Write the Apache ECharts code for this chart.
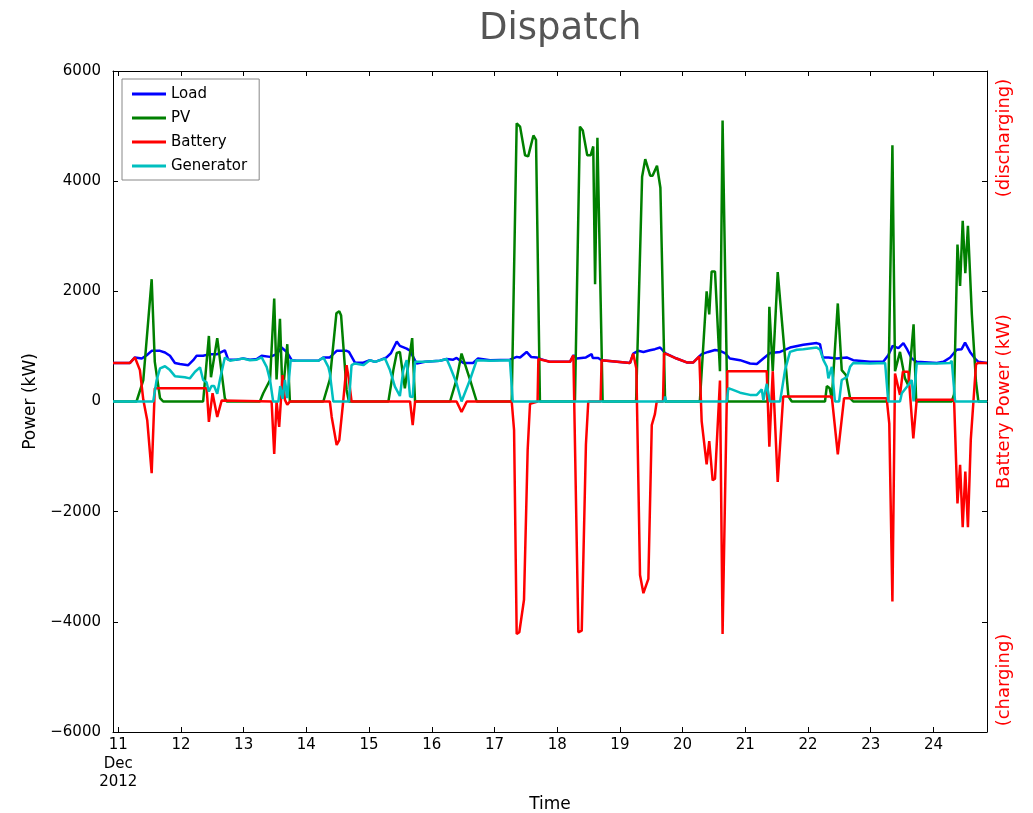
<!DOCTYPE html>
<html>
<head>
<meta charset="utf-8">
<script src="https://cdn.jsdelivr.net/npm/echarts@6/dist/echarts.min.js"></script>
<style>
html,body{margin:0;padding:0;background:#fff;}
#chart{width:1033px;height:813px;}
</style>
</head>
<body>
<div id="chart"></div>
<script>
// Time in hours from 11 Dec 2012 00:00
const dayTicks = [0,24,48,72,96,120,144,168,192,216,240,264,288,312];
const dayLabels = ['11\nDec\n2012','12','13','14','15','16','17','18','19','20','21','22','23','24'];
const yTicks = [-6000,-4000,-2000,0,2000,4000,6000];

const loadT = [-2,4.5,6.4,7.0,9.0,10.9,12.8,16.0,17.9,19.8,21.7,23.6,26.8,28.7,30.0,32.5,35.1,37.9,39.6,40.8,42.1,45.3,47.8,50.4,53.0,54.9,58.1,60.6,62.5,64.5,66.4,68.3,73.4,76.6,78.5,81.0,83.6,87.4,88.3,90.6,93.8,96.3,98.3,100.6,102.7,104.4,106.6,107.8,110.4,111.7,114.2,117.4,123.1,125.7,128.2,129.5,132.1,135.8,137.7,142.3,149.9,152.5,153.8,156.3,158.0,160.2,161.8,165.2,172.9,174.2,175.5,179.0,181.2,181.6,183.7,185.0,195.9,197.1,199.0,201.0,203.5,205.4,207.4,209.3,213.7,217.6,220.1,222.4,223.3,225.8,228.4,230.3,232.2,234.1,238.0,241.8,244.4,246.9,249.5,253.3,257.1,262.2,267.3,268.6,269.6,271.8,275.0,278.8,281.3,287.7,292.8,294.7,296.4,298.6,300.5,302.0,303.7,305.6,313.3,315.8,318.4,320.9,322.8,324.1,326.0,327.9,329.2,332.5];
const loadV = [700,700,800,830,780,840,920,920,890,830,700,680,660,750,830,830,860,860,900,930,760,760,780,760,770,830,810,860,980,900,750,740,740,740,800,800,920,920,900,705,705,750,720,760,800,880,1090,1010,960,920,690,720,740,770,760,790,700,700,780,750,760,810,800,900,810,800,770,720,720,840,780,800,860,790,790,750,700,870,920,900,930,950,980,880,780,710,710,820,860,900,935,920,880,780,750,690,680,780,880,900,980,1030,1060,1040,800,800,780,800,750,720,720,840,1010,970,1060,940,780,720,700,720,800,940,950,1070,900,780,720,700];

const pvT = [-2,7.0,9.6,12.8,14.0,16.0,17.2,32.5,34.7,35.5,36.1,37.9,40.8,41.5,54.2,55.5,58.1,59.7,60.6,61.9,62.9,64.7,65.7,78.5,81.0,83.5,84.6,85.3,87.4,88.3,103.4,105.3,106.6,107.8,109.7,112.5,113.6,127.0,129.5,131.4,132.1,134.6,137.2,150.6,152.5,153.8,155.7,156.9,158.9,159.9,161.4,174.8,176.7,177.8,179.5,180.8,181.8,182.5,183.4,185.4,198.2,200.5,201.7,203.6,204.5,206.2,207.5,209.3,222.6,225.2,226.2,227.1,228.4,230.3,231.3,233.1,248.5,249.2,250.5,252.4,256.5,257.8,270.5,271.2,272.3,273.1,275.4,276.9,278.5,280.1,281.3,294.7,296.3,297.3,299.2,301.1,302.4,304.4,305.4,319.0,319.9,321.2,322.2,323.2,324.2,325.2,326.7,328.3,329.2,332.5];
const pvV = [0,0,390,2220,720,60,0,0,1190,440,440,1150,60,0,0,150,390,1870,400,1500,100,1040,0,0,400,1600,1640,1560,210,0,0,570,880,900,240,1150,0,0,400,870,880,400,0,0,5050,4990,4470,4450,4830,4750,0,0,4990,4920,4470,4470,4630,2130,4790,0,0,4080,4400,4100,4100,4280,3880,0,0,2000,1580,2360,2360,550,5100,0,0,1720,550,2350,90,0,0,280,240,50,1780,570,480,60,0,0,4650,550,900,420,290,1400,0,0,130,2850,2100,3280,2330,3190,1580,350,0,0];

const batT = [-2,4.5,6.4,8.3,9.6,11.1,12.8,14.0,33.8,34.1,34.7,36.1,37.9,39.6,58.7,59.7,60.6,61.6,62.9,63.8,64.7,65.7,81.0,81.7,83.6,84.6,86.1,87.4,88.3,89.3,111.7,112.7,113.6,129.5,131.4,132.1,133.4,150.6,151.5,152.5,153.5,155.3,156.7,157.6,160.5,160.8,165.2,172.9,174.2,176.1,177.4,179.0,179.9,184.6,185.0,195.9,197.1,198.3,199.7,201.0,202.9,204.2,205.4,206.1,208.5,208.9,209.9,213.7,217.6,220.1,222.4,223.3,225.2,226.2,227.5,228.4,230.3,231.3,233.1,248.2,249.2,250.5,252.4,254.5,273.1,275.4,277.8,294.1,295.1,296.3,297.3,299.2,300.3,302.4,304.3,305.6,319.9,321.2,322.2,323.2,324.2,325.2,326.3,328.3,329.2,332.5];
const batV = [700,700,800,570,30,-340,-1300,240,240,60,-370,150,-280,20,0,-950,0,-460,480,30,-60,0,0,-280,-790,-700,0,660,390,0,0,-430,0,0,-190,-190,0,0,-520,-4220,-4190,-3600,-880,-40,0,770,720,720,840,-4190,-4160,-780,0,0,750,700,870,600,-3150,-3480,-3220,-430,-230,0,0,870,860,780,710,710,820,-360,-1140,-720,-1430,-1400,380,-4220,550,550,-820,550,-1460,90,90,-960,60,60,-400,-3630,510,120,540,540,-670,30,30,-1850,-1150,-2280,-1270,-2280,-690,680,700,700];

const genT = [-2,13.4,14.7,16.0,17.9,19.8,21.7,25.5,27.4,29.4,31.3,32.5,33.8,34.7,35.7,36.7,37.9,38.9,40.8,42.8,45.3,47.8,50.4,53.0,54.9,56.8,58.1,59.3,61.3,62.0,62.9,63.8,64.7,66.0,68.3,73.4,76.6,78.5,80.4,81.0,82.3,88.3,89.3,90.6,93.8,96.3,98.3,102.1,104.0,105.9,107.8,109.1,110.4,111.7,112.7,113.6,117.4,123.1,125.7,127.0,129.5,131.4,132.1,134.6,137.2,142.3,149.9,150.6,151.0,209.0,209.3,209.7,232.9,233.5,234.8,238.0,241.8,244.4,246.3,246.9,248.2,249.4,253.3,255.2,257.1,259.7,262.2,267.3,268.6,269.9,271.2,271.8,273.1,274.3,275.9,276.9,279.0,280.1,281.3,287.7,293.5,294.7,299.2,299.9,302.4,303.7,304.4,305.6,313.3,318.4,319.0,320.3,332.5];
const genV = [0,0,390,600,640,570,460,440,420,540,620,390,350,180,280,280,140,390,800,740,760,780,750,760,800,630,390,0,0,280,50,390,60,750,740,740,740,800,630,510,0,0,660,690,660,750,720,780,570,270,100,570,750,90,80,720,720,740,770,630,330,0,0,390,750,740,750,780,0,0,90,0,0,240,220,160,120,120,220,20,320,0,0,570,900,940,950,980,940,750,630,420,630,0,0,390,450,630,700,690,700,0,0,150,300,390,0,690,690,700,740,0,0];

function pairs(t, v){ return t.map((h,i)=>[h, v[i]]); }

const chart = echarts.init(document.getElementById('chart'), null, {renderer:'canvas'});
const FONT = 'DejaVu Sans';
const lw = 2.5;
const option = {
  animation: false,
  backgroundColor: '#fff',
  title: {
    text: 'Dispatch', left: 474, top: 6,
    textStyle: {fontFamily: FONT, fontSize: 37, fontWeight: 'normal', color: '#555555'}
  },
  legend: {
    orient: 'vertical', left: 122, top: 79,
    padding: [7, 12, 6, 10],
    itemWidth: 34, itemHeight: 3, itemGap: 8,
    icon: 'rect',
    backgroundColor: '#fff', borderColor: '#888', borderWidth: 1,
    textStyle: {fontFamily: FONT, fontSize: 15, color: '#000', lineHeight: 16},
    data: ['Load','PV','Battery','Generator']
  },
  grid: {left: 113, right: 46, top: 71, bottom: 81, containLabel: false, outerBoundsMode: 'none'},
  xAxis: [{
    type: 'value', min: -2, max: 332.5, position: 'bottom',
    name: 'Time', nameLocation: 'middle', nameGap: 59,
    nameTextStyle: {fontFamily: FONT, fontSize: 17, color: '#000'},
    axisLine: {show: true, onZero: false, lineStyle: {color: '#000', width: 1}},
    axisTick: {show: true, inside: true, length: 5, customValues: dayTicks, lineStyle: {color: '#000'}},
    axisLabel: {show: true, customValues: dayTicks, margin: 4, fontFamily: FONT, fontSize: 15, color: '#000', lineHeight: 18.5,
      formatter: function(v){ const i = dayTicks.indexOf(Math.round(v)); return i >= 0 ? dayLabels[i] : ''; }},
    splitLine: {show: false}
  },{
    type: 'value', min: -2, max: 332.5, position: 'top',
    axisLine: {show: true, onZero: false, lineStyle: {color: '#000', width: 1}},
    axisTick: {show: true, inside: true, length: 5, customValues: dayTicks, lineStyle: {color: '#000'}},
    axisLabel: {show: false},
    splitLine: {show: false}
  }],
  yAxis: [{
    type: 'value', min: -6000, max: 6000, interval: 2000, position: 'left',
    name: 'Power (kW)', nameLocation: 'middle', nameGap: 67, nameRotate: 90,
    nameTextStyle: {fontFamily: FONT, fontSize: 17, color: '#000'},
    axisLine: {show: true, onZero: false, lineStyle: {color: '#000', width: 1}},
    axisTick: {show: true, inside: true, length: 5, lineStyle: {color: '#000'}},
    axisLabel: {margin: 12, fontFamily: FONT, fontSize: 15, color: '#000',
      formatter: function(v){ return v < 0 ? '\u2212' + Math.abs(v) : String(v); }},
    splitLine: {show: false}
  },{
    type: 'value', min: -6000, max: 6000, interval: 2000, position: 'right',
    name: 'Battery Power (kW)', nameLocation: 'middle', nameGap: 8, nameRotate: 90,
    nameTextStyle: {fontFamily: FONT, fontSize: 18, color: '#ff0000'},
    axisLine: {show: true, onZero: false, lineStyle: {color: '#000', width: 1}},
    axisTick: {show: true, inside: true, length: 5, lineStyle: {color: '#000'}},
    axisLabel: {show: false},
    splitLine: {show: false}
  }],
  graphic: [
    {type: 'text', x: 1004, y: 138, rotation: Math.PI/2,
     style: {text: '(discharging)', fill: '#ff0000', font: '18px "DejaVu Sans"', textAlign: 'center', textVerticalAlign: 'middle'}},
    {type: 'text', x: 1004, y: 680, rotation: Math.PI/2,
     style: {text: '(charging)', fill: '#ff0000', font: '18px "DejaVu Sans"', textAlign: 'center', textVerticalAlign: 'middle'}}
  ],
  series: [
    {name: 'Load', type: 'line', xAxisIndex: 0, yAxisIndex: 0, data: pairs(loadT, loadV), showSymbol: false, color: '#0000ff', lineStyle: {width: lw}},
    {name: 'PV', type: 'line', xAxisIndex: 0, yAxisIndex: 0, data: pairs(pvT, pvV), showSymbol: false, color: '#008000', lineStyle: {width: lw}},
    {name: 'Battery', type: 'line', xAxisIndex: 0, yAxisIndex: 1, data: pairs(batT, batV), showSymbol: false, color: '#ff0000', lineStyle: {width: lw}},
    {name: 'Generator', type: 'line', xAxisIndex: 0, yAxisIndex: 0, data: pairs(genT, genV), showSymbol: false, color: '#00bfbf', lineStyle: {width: lw}}
  ]
};
chart.setOption(option);
</script>
</body>
</html>
